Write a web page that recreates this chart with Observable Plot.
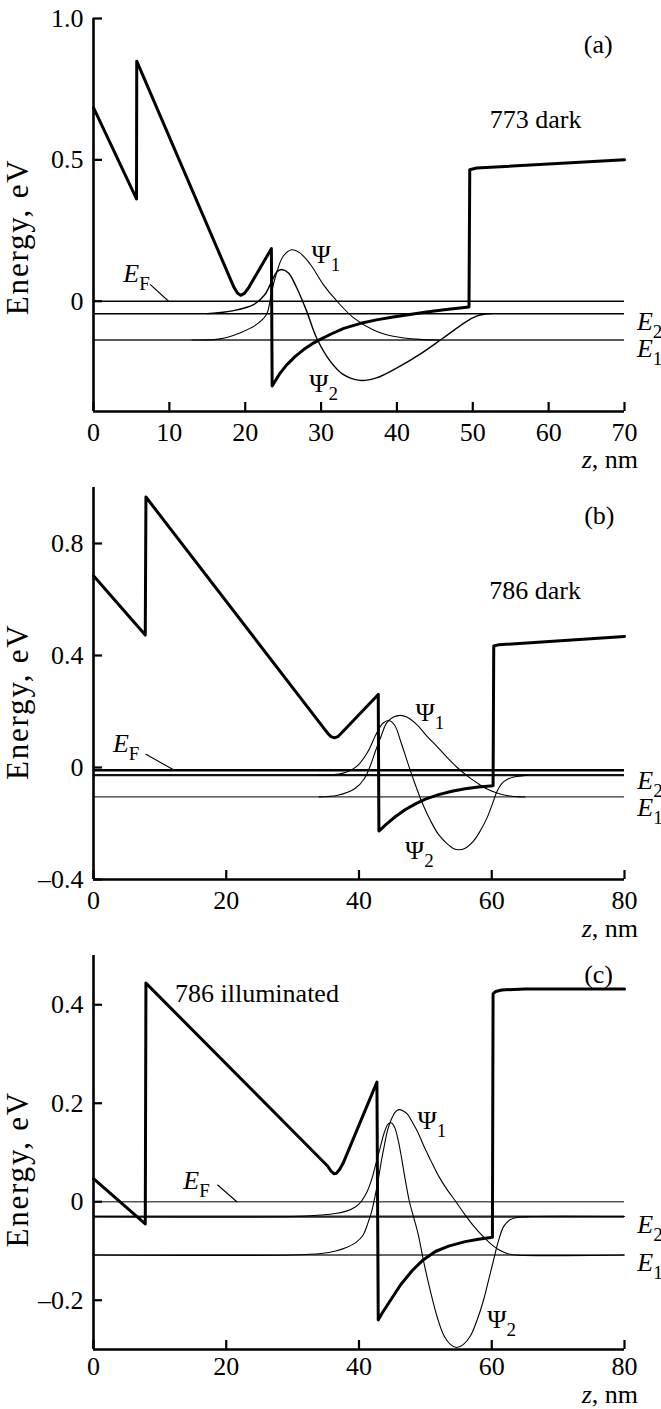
<!DOCTYPE html>
<html>
<head>
<meta charset="utf-8">
<script src="https://cdn.jsdelivr.net/npm/d3@7"></script>
<script src="https://cdn.jsdelivr.net/npm/@observablehq/plot@0.6"></script>
<style>
  html, body { margin: 0; padding: 0; background: #fff; }
  svg { display: block; }
</style>
</head>
<body>
<div id="chart"></div>
<script>
// ---------------- Panel (a): 773 dark ----------------
const zTicksA = [0, 10, 20, 30, 40, 50, 60, 70];
const eTicksA = [0, 0.5, 1.0];
const cbA_z = [0, 5.67, 5.7, 18.5, 19.0, 19.4, 19.9, 20.5, 23.45, 23.55, 24.5, 25.5, 26.6, 27.7, 28.8, 29.9, 31.4, 33.0, 35.1, 37.3, 39.5, 41.7, 43.9, 46.5, 49.5, 49.6, 50.5, 70];
const cbA_E = [0.685, 0.362, 0.849, 0.05, 0.028, 0.021, 0.028, 0.05, 0.186, -0.300, -0.258, -0.224, -0.195, -0.171, -0.151, -0.135, -0.115, -0.096, -0.079, -0.066, -0.056, -0.047, -0.038, -0.029, -0.020, 0.465, 0.471, 0.500];
const psi1A_z = [13, 16.7, 19.3, 21.5, 22.8, 23.5, 24.2, 25.0, 26.1, 27.2, 28.6, 30.3, 32.1, 34.3, 36.9, 39.5, 43, 45.5];
const psi1A_E = [-0.137, -0.133, -0.112, -0.082, -0.047, 0.035, 0.106, 0.159, 0.182, 0.171, 0.13, 0.059, 0, -0.059, -0.102, -0.124, -0.135, -0.137];
const psi2A_z = [15, 18.5, 21.1, 22.6, 23.5, 24.2, 24.8, 25.7, 26.8, 28.1, 29.4, 31.2, 32.9, 35.1, 37.3, 40, 43, 46.1, 49.2, 50.5, 51.5, 52.5];
const psi2A_E = [-0.044, -0.033, -0.012, 0.024, 0.071, 0.104, 0.112, 0.1, 0.047, -0.035, -0.129, -0.212, -0.259, -0.28, -0.271, -0.236, -0.188, -0.13, -0.071, -0.053, -0.046, -0.044];
const levelsA = [0, -0.044, -0.137];           // E_F, E_2, E_1
const noteA_text = ["773 dark", "(a)"];
const noteA_z = [52.3, 64.7];
const noteA_E = [0.642, 0.907];
const psiLabA_z = [28.8, 28.5];
const psiLabA_E = [0.165, -0.29];
const efLabA = [4.0, 0.1];
const leaderA_z = [7.5, 9.9];
const leaderA_E = [0.059, 0];
const levLabA_z = 71.7;
const levLabA_E = [-0.071, -0.166];          // E_2, E_1
const yLabA_E = 0.226;

// ---------------- Panel (b): 786 dark ----------------
const zTicksB = [0, 20, 40, 60, 80];
const eTicksB = [-0.4, 0, 0.4, 0.8];
const cbB_z = [0, 7.8, 7.9, 35.3, 35.8, 36.3, 36.8, 37.4, 42.9, 43.0, 44.0, 45.5, 47.0, 48.5, 50.0, 52.0, 54.0, 56.0, 58.0, 60.2, 60.3, 61.0, 80];
const cbB_E = [0.685, 0.473, 0.966, 0.122, 0.110, 0.106, 0.110, 0.124, 0.261, -0.227, -0.205, -0.175, -0.150, -0.130, -0.113, -0.097, -0.085, -0.076, -0.070, -0.065, 0.434, 0.438, 0.468];
const psi1B_z = [34, 36.8, 39.4, 40.8, 41.6, 42.5, 43.3, 44.2, 45.2, 46.2, 47.2, 48.8, 50.3, 51.8, 53.3, 54.8, 56.3, 57.8, 59.3, 60.8, 62.5, 64.3, 65];
const psi1B_E = [-0.105, -0.099, -0.075, -0.04, 0, 0.06, 0.11, 0.16, 0.18, 0.186, 0.18, 0.151, 0.11, 0.074, 0.035, 0, -0.03, -0.055, -0.077, -0.091, -0.101, -0.105, -0.105];
const psi2B_z = [34, 37.5, 39.7, 41.3, 42.6, 43.6, 44.5, 45.4, 46.3, 47.3, 48.3, 49.5, 50.8, 52, 53.3, 54.2, 55, 56, 57.3, 58.3, 59.3, 60.1, 60.8, 61.5, 62.3, 63.5, 64.8, 65.5];
const psi2B_E = [-0.027, -0.021, 0.005, 0.055, 0.12, 0.158, 0.168, 0.15, 0.092, 0.02, -0.049, -0.125, -0.191, -0.24, -0.273, -0.289, -0.294, -0.288, -0.261, -0.225, -0.179, -0.13, -0.085, -0.058, -0.043, -0.033, -0.029, -0.027];
const levelsB = [-0.01, -0.027, -0.105];
const noteB_text = ["786 dark", "(b)"];
const noteB_z = [59.7, 74];
const noteB_E = [0.634, 0.899];
const psiLabB_z = [48.6, 47];
const psiLabB_E = [0.198, -0.297];
const efLabB = [3.0, 0.086];
const leaderB_z = [7.9, 12.05];
const leaderB_E = [0.047, -0.008];
const levLabB_z = 82;
const levLabB_E = [-0.045, -0.142];
const yLabB_E = 0.233;

// ---------------- Panel (c): 786 illuminated ----------------
const zTicksC = [0, 20, 40, 60, 80];
const eTicksC = [-0.2, 0, 0.2, 0.4];
const cbC_z = [0, 7.8, 7.9, 35.3, 35.8, 36.2, 36.6, 37.1, 37.6, 42.7, 42.9, 43.5, 44.5, 46.3, 48.0, 49.5, 51.5, 53.5, 56.0, 58.0, 60.1, 60.2, 60.6, 61.5, 65, 80];
const cbC_E = [0.047, -0.045, 0.444, 0.072, 0.062, 0.057, 0.058, 0.066, 0.078, 0.243, -0.240, -0.226, -0.205, -0.168, -0.140, -0.120, -0.101, -0.090, -0.081, -0.076, -0.072, 0.422, 0.427, 0.430, 0.432, 0.432];
const psi1C_z = [0, 30, 34.3, 36.5, 38.1, 39.5, 40.6, 41.3, 41.9, 42.4, 42.9, 43.4, 43.8, 44.3, 44.8, 45.4, 46, 46.6, 47.3, 48.1, 48.9, 49.8, 50.8, 52, 53.3, 54.6, 55.9, 57.2, 58.5, 59.8, 61, 62.3, 63.5, 80];
const psi1C_E = [-0.108, -0.108, -0.105, -0.1, -0.093, -0.083, -0.068, -0.045, -0.02, 0.01, 0.045, 0.085, 0.113, 0.145, 0.165, 0.181, 0.187, 0.185, 0.178, 0.16, 0.14, 0.112, 0.084, 0.052, 0.024, 0, -0.025, -0.048, -0.068, -0.085, -0.097, -0.105, -0.108, -0.108];
const psi2C_z = [0, 30, 34.3, 36.5, 38.1, 39.5, 40.3, 41.2, 41.9, 42.6, 43.2, 43.8, 44.4, 44.9, 45.4, 45.9, 46.4, 46.9, 47.6, 48.2, 48.9, 49.8, 50.8, 51.8, 52.8, 53.8, 54.7, 55.7, 56.8, 57.8, 58.8, 59.6, 60.3, 61, 61.8, 62.7, 63.8, 65.8, 80];
const psi2C_E = [-0.03, -0.03, -0.027, -0.024, -0.019, -0.01, 0, 0.02, 0.045, 0.08, 0.11, 0.14, 0.158, 0.16, 0.15, 0.125, 0.09, 0.05, 0, -0.03, -0.065, -0.125, -0.184, -0.235, -0.272, -0.29, -0.296, -0.29, -0.272, -0.24, -0.198, -0.155, -0.117, -0.08, -0.05, -0.037, -0.032, -0.03, -0.03];
const levelsC = [0, -0.03, -0.108];
const noteC_text = ["786 illuminated", "(c)"];
const noteC_z = [12.35, 74];
const noteC_E = [0.424, 0.462];
const psiLabC_z = [48.9, 59.4];
const psiLabC_E = [0.166, -0.238];
const efLabC = [13.6, 0.044];
const leaderC_z = [18.7, 21.6];
const leaderC_E = [0.034, 0];
const levLabC_z = 82;
const levLabC_E = [-0.046, -0.124];
const yLabC_E = 0.065;

// ---------------- drawing ----------------
const FONT = "'Liberation Serif', 'Times New Roman', Times, serif";
const FS = 26;
const zip = (zs, es) => zs.map((z, i) => ({z, E: es[i]}));
const fmtE = d => d === 0 ? "0" : (d < 0 ? "\u2013" : "") + Math.abs(d).toFixed(1);

// y is the vertical middle of the text (dy = 0.35em)
function addText(svg, x, y, parts, anchor = "start", rotate = false) {
  const t = d3.select(svg).append("text")
    .attr("font-family", FONT).attr("font-size", FS).attr("fill", "#000")
    .attr("text-anchor", anchor);
  if (rotate) {
    t.attr("transform", `translate(${x},${y}) rotate(-90)`)
     .attr("font-size", 31).attr("letter-spacing", 1.8);
  } else {
    t.attr("x", x).attr("y", y).attr("dy", "0.35em");
  }
  let shifted = false;
  parts.forEach(p => {
    const s = t.append("tspan").text(p.t);
    if (p.i) s.attr("font-style", "italic");
    if (p.sub) { s.attr("font-size", 19).attr("dy", 8); shifted = true; }
    else if (shifted) { s.attr("dy", -8); shifted = false; }
  });
  return t;
}

function panel(o) {
  const cb = zip(o.cbZ, o.cbE), p1 = zip(o.p1Z, o.p1E), p2 = zip(o.p2Z, o.p2E);
  const leader = zip(o.leadZ, o.leadE);
  const yMin = o.yDom[0];
  const plot = Plot.plot({
    width: 661, height: o.height,
    marginLeft: 93, marginRight: 37, marginTop: o.mt, marginBottom: o.mb,
    style: {fontFamily: FONT, fontSize: FS + "px", color: "#000", background: "#fff", overflow: "visible"},
    x: {domain: [0, o.zMax]},
    y: {domain: o.yDom},
    marks: [
      Plot.ruleY([o.levels[0]], {stroke: o.efColor, strokeWidth: o.efW}),
      Plot.ruleY([o.levels[1]], {stroke: o.e2Color, strokeWidth: o.e2W}),
      Plot.ruleY([o.levels[2]], {stroke: o.e1Color, strokeWidth: o.e1W}),
      Plot.line(p1, {x: "z", y: "E", stroke: "#000", strokeWidth: 1.1, curve: "catmull-rom"}),
      Plot.line(p2, {x: "z", y: "E", stroke: "#000", strokeWidth: o.p2W, curve: "catmull-rom"}),
      Plot.line(cb, {x: "z", y: "E", stroke: "#000", strokeWidth: 3, strokeLinejoin: "round"}),
      Plot.line(leader, {x: "z", y: "E", stroke: "#000", strokeWidth: 1.1}),
      Plot.ruleX([0], {stroke: "#000", strokeWidth: 2.6}),
      Plot.ruleY([yMin], {stroke: "#000", strokeWidth: 2.6}),
      Plot.axisX({ticks: o.zTicks, tickSize: -9, tickPadding: o.xPad, tickFormat: d => String(d), label: null, strokeWidth: 2.2}),
      Plot.axisY({ticks: o.eTicks, tickSize: -9, tickPadding: 19, tickFormat: fmtE, label: null, strokeWidth: 2.2})
    ]
  });
  const sx = plot.scale("x"), sy = plot.scale("y");
  const X = v => sx.apply(v), Y = v => sy.apply(v);
  o.noteText.forEach((t, i) => addText(plot, X(o.noteZ[i]), Y(o.noteE[i]), [{t}]));
  addText(plot, X(o.psiZ[0]), Y(o.psiE[0]), [{t: "\u03A8"}, {t: "1", sub: true}]);
  addText(plot, X(o.psiZ[1]), Y(o.psiE[1]), [{t: "\u03A8"}, {t: "2", sub: true}]);
  addText(plot, X(o.ef[0]), Y(o.ef[1]), [{t: "E", i: true}, {t: "F", sub: true}]);
  addText(plot, X(o.levZ), Y(o.levE[0]), [{t: "E", i: true}, {t: "2", sub: true}]);
  addText(plot, X(o.levZ), Y(o.levE[1]), [{t: "E", i: true}, {t: "1", sub: true}]);
  addText(plot, X(o.zMax) + 14, Y(yMin) + o.zLabOff, [{t: "z", i: true}, {t: ", nm"}], "end");
  addText(plot, 28, Y(o.yLab), [{t: "Energy, eV"}], "middle", true);
  document.getElementById("chart").appendChild(plot);
}

panel({
  zMax: 70, yDom: [-0.39, 1.0], zTicks: zTicksA, eTicks: eTicksA, height: 470, mt: 18, mb: 59, zLabOff: 48, xPad: 20,
  cbZ: cbA_z, cbE: cbA_E, p1Z: psi1A_z, p1E: psi1A_E, p2Z: psi2A_z, p2E: psi2A_E, p2W: 1.4,
  levels: levelsA, efColor: "#000", efW: 1.5, e2Color: "#000", e2W: 1.5, e1Color: "#222", e1W: 1.4,
  noteText: noteA_text, noteZ: noteA_z, noteE: noteA_E, psiZ: psiLabA_z, psiE: psiLabA_E,
  ef: efLabA, leadZ: leaderA_z, leadE: leaderA_E, levZ: levLabA_z, levE: levLabA_E, yLab: yLabA_E
});
panel({
  zMax: 80, yDom: [-0.4, 1.0], zTicks: zTicksB, eTicks: eTicksB, height: 470, mt: 17, mb: 61, zLabOff: 49, xPad: 20,
  cbZ: cbB_z, cbE: cbB_E, p1Z: psi1B_z, p1E: psi1B_E, p2Z: psi2B_z, p2E: psi2B_E, p2W: 1.1,
  levels: levelsB, efColor: "#000", efW: 2.4, e2Color: "#111", e2W: 2.2, e1Color: "#333", e1W: 1.3,
  noteText: noteB_text, noteZ: noteB_z, noteE: noteB_E, psiZ: psiLabB_z, psiE: psiLabB_E,
  ef: efLabB, leadZ: leaderB_z, leadE: leaderB_E, levZ: levLabB_z, levE: levLabB_E, yLab: yLabB_E
});
panel({
  zMax: 80, yDom: [-0.3, 0.5], zTicks: zTicksC, eTicks: eTicksC, height: 469, mt: 15, mb: 60, zLabOff: 44.5, xPad: 16,
  cbZ: cbC_z, cbE: cbC_E, p1Z: psi1C_z, p1E: psi1C_E, p2Z: psi2C_z, p2E: psi2C_E, p2W: 1.1,
  levels: levelsC, efColor: "#555", efW: 1.5, e2Color: "#222", e2W: 2.2, e1Color: "#333", e1W: 1.6,
  noteText: noteC_text, noteZ: noteC_z, noteE: noteC_E, psiZ: psiLabC_z, psiE: psiLabC_E,
  ef: efLabC, leadZ: leaderC_z, leadE: leaderC_E, levZ: levLabC_z, levE: levLabC_E, yLab: yLabC_E
});
</script>
</body>
</html>
